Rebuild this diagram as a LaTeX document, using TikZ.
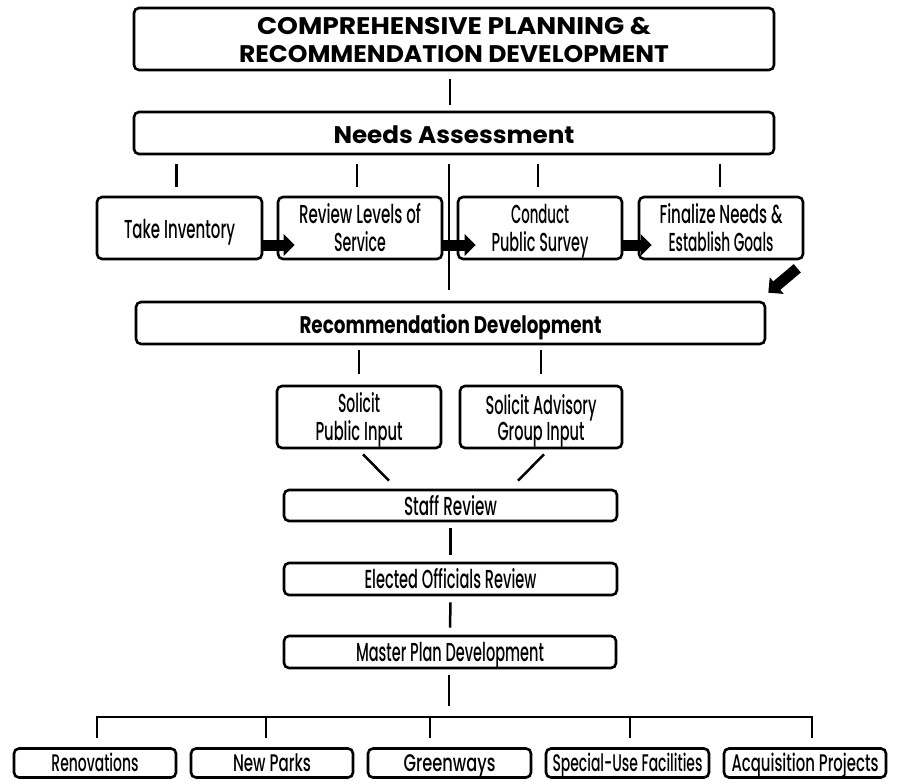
\documentclass[tikz,border=0pt]{standalone}
\usepackage{fontspec}
\usepackage{graphicx}
\usetikzlibrary{calc,arrows.meta}
\newfontfamily\condf{Poppins Medium}
\newfontfamily\headf{Poppins}
\newcommand\fw[2]{\resizebox{#1pt}{\height}{#2}}
% one line: baseline placed #1 below the node centre
\newcommand\one[3]{\raisebox{-#1pt}[0pt][0pt]{\fw{#2}{#3}}}
% two lines: last baseline placed #1 below the node centre
\newcommand\two[5]{\raisebox{-#1pt}[0pt][0pt]{\begin{tabular}[b]{@{}c@{}}\fw{#2}{#3}\\\fw{#4}{#5}\end{tabular}}}
\begin{document}
\begin{tikzpicture}[x=1pt,y=-1pt,
  box/.style={draw,line width=2.6pt,rounded corners=5pt,inner sep=0pt},
  cbox/.style={box,font=\condf\fontsize{26}{24}\selectfont},
  lbox/.style={box,font=\condf\fontsize{24}{24}\selectfont},
  hbox/.style={box,font=\headf\bfseries\fontsize{24}{28}\selectfont},
  conn/.style={line width=2.5pt},
  blk/.style={line width=11pt,-{Triangle[length=11pt,width=21pt]}}]
\useasboundingbox (0,0) rectangle (901,781);

% headings
\node[hbox,minimum width=640pt,minimum height=62pt] (top) at (454,39)
  {\two{24}{394}{COMPREHENSIVE PLANNING \&}{430}{RECOMMENDATION DEVELOPMENT}};
\node[hbox,minimum width=640pt,minimum height=42pt] (na) at (454,133)
  {\one{10.5}{241}{Needs Assessment}};
% needs row
\node[cbox,minimum width=165pt,minimum height=62pt] (ti) at (179.5,228) {\one{10}{111}{Take Inventory}};
\node[cbox,minimum width=164pt,minimum height=62pt] (rl) at (360,228) {\two{23}{122}{Review Levels of}{52}{Service}};
\node[cbox,minimum width=164pt,minimum height=62pt] (cp) at (540,228) {\two{23}{58}{Conduct}{97}{Public Survey}};
\node[cbox,minimum width=164pt,minimum height=62pt] (fn) at (721,228) {\two{23}{123}{Finalize Needs \&}{105}{Establish Goals}};
% recommendation
\node[hbox,minimum width=629pt,minimum height=42pt] (rd) at (450.5,323)
  {\one{10}{302}{Recommendation Development}};
\node[cbox,minimum width=164pt,minimum height=62pt] (sp) at (359,417) {\two{23}{42}{Solicit}{87}{Public Input}};
\node[cbox,minimum width=162pt,minimum height=62pt] (sa) at (541,417) {\two{23}{111}{Solicit Advisory}{87}{Group Input}};
\node[cbox,minimum width=333pt,minimum height=31pt] (sr) at (450.5,505.5) {\one{10}{93}{Staff Review}};
\node[cbox,minimum width=333pt,minimum height=32pt] (eo) at (450.5,579) {\one{9.5}{172}{Elected Officials Review}};
\node[cbox,minimum width=332pt,minimum height=32pt] (mp) at (450,652) {\one{9.5}{188}{Master Plan Development}};
% bottom row
\node[lbox,minimum width=162pt,minimum height=29pt] (ren) at (95,763) {\one{8.5}{87}{Renovations}};
\node[lbox,minimum width=162pt,minimum height=29pt] (np) at (272,763) {\one{8.5}{78}{New Parks}};
\node[lbox,minimum width=163pt,minimum height=29pt] (gw) at (449.5,763) {\one{8.5}{92}{Greenways}};
\node[lbox,minimum width=163pt,minimum height=29pt] (su) at (627.5,763) {\one{8.5}{150}{Special-Use Facilities}};
\node[lbox,minimum width=162pt,minimum height=29pt] (aq) at (805,763) {\one{8.5}{147}{Acquisition Projects}};

% connectors
\draw[conn] ($(top.south)+(-4,8)$) -- ($(na.north)+(-4,-6)$);
\draw[conn,shorten <=9pt,shorten >=9pt] ([xshift=-3pt]na.south -| ti.north) -- ([xshift=-3pt]ti.north);
\draw[conn,shorten <=9pt,shorten >=9pt] ([xshift=-3pt]na.south -| rl.north) -- ([xshift=-3pt]rl.north);
\draw[conn,shorten <=9pt,shorten >=9pt] ([xshift=-2pt]na.south -| cp.north) -- ([xshift=-2pt]cp.north);
\draw[conn,shorten <=9pt,shorten >=9pt] ([xshift=-1pt]na.south -| fn.north) -- ([xshift=-1pt]fn.north);
\draw[conn] ($(na.south)+(-5,9)$) -- ($(rd.north)+(-1.5,-11)$);
\draw[conn,shorten <=5pt,shorten >=11pt] (rd.south -| sp.north) -- (sp.north);
\draw[conn,shorten <=5pt,shorten >=11pt] (rd.south -| sa.north) -- (sa.north);
\draw[conn] ($(sp.south)+(4,5)$) -- ($(sr.north)+(-61.5,-8)$);
\draw[conn] ($(sa.south)+(3,5)$) -- ($(sr.north)+(67.5,-8)$);
\draw[conn] ($(sr.south)+(0,6)$) -- ($(eo.north)+(0,-7)$);
\draw[conn] ($(eo.south)+(0,6)$) -- ($(mp.north)+(0,-7)$);
\draw[conn] ($(mp.south)+(-1,6)$) -- ($(mp.south)+(-1,37)$);
\draw[conn] ($(ren.north)+(2,-9)$) |- ($(aq.north)+(7,-30)$) -- ($(aq.north)+(7,-9)$);
\draw[conn] ($(np.north)+(-6,-9)$) -- ($(np.north)+(-6,-30)$);
\draw[conn] ($(gw.north)+(-19.5,-9)$) -- ($(gw.north)+(-19.5,-30)$);
\draw[conn] ($(su.north)+(2.5,-9)$) -- ($(su.north)+(2.5,-30)$);

% block arrows
\draw[blk] ($(ti.east)+(0,17)$) -- ($(rl.west)+(18,17)$);
\draw[blk] ($(rl.east)+(0,17)$) -- ($(cp.west)+(19,17)$);
\draw[blk] ($(cp.east)+(0,17)$) -- ($(fn.west)+(14,17)$);
\draw[blk] ($(fn.south east)+(-7,8)$) -- ($(rd.north east)+(2,-8)$);
\end{tikzpicture}
\end{document}
